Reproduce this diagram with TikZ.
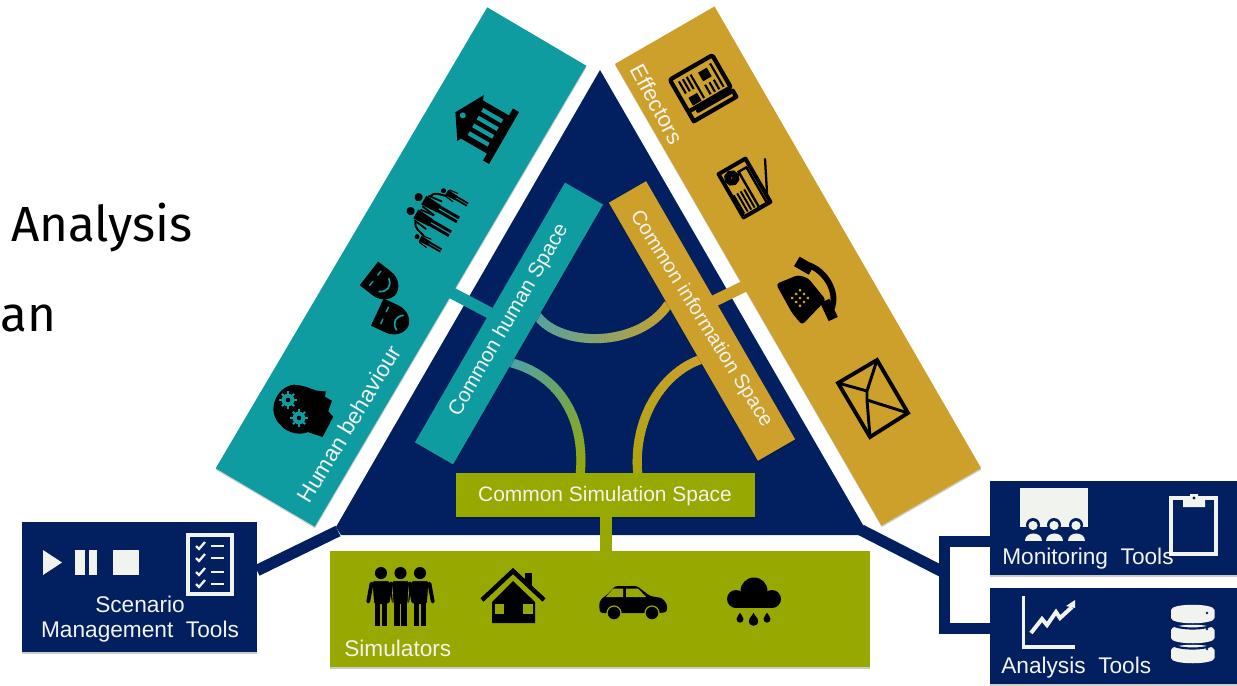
\documentclass[tikz,border=0pt]{standalone}
\usepackage{fontspec}
\setmainfont{Liberation Sans}
\newfontfamily\headfont{Fira Sans}
\usetikzlibrary{shadows,decorations.markings,calc}
\definecolor{navy}{HTML}{02205F}
\definecolor{tealc}{HTML}{0F9CA1}
\definecolor{goldc}{HTML}{CDA02B}
\definecolor{olive}{HTML}{97A800}
\definecolor{paper}{HTML}{F1F3EE}
\definecolor{tealarc}{HTML}{4FA3A3}
\tikzset{
  panel/.style={inner sep=0pt,outer sep=0pt,anchor=center,drop shadow={shadow xshift=0.2pt,shadow yshift=-1.2pt,opacity=.2,fill=black}},
  lab/.style={text=paper,inner sep=0pt,font=\fontsize{17pt}{20pt}\selectfont},
  bar/.style={line width=8.6pt},
  gradarc/.style n args={2}{postaction={decorate},decoration={markings,
     mark=between positions 0 and 1 step 0.02 with {
       \pgfkeysgetvalue{/pgf/decoration/mark info/sequence number}\sq
       \pgfmathtruncatemacro\pc{max(0,100-2*(\sq-1))}
       \draw[line width=6.8pt,color=#1!\pc!#2] (-1.6pt,0pt)--(1.6pt,0pt);}}},
}
% man: x, top y, scale, halo colour
\newcommand\manicon[4]{%
\begin{scope}[shift={(#1,#2)},scale=#3]
 \fill[black] (0,5.5) circle (5.5);
 \fill[black,rounded corners=1.5pt,draw=#4,line width=.5pt] (-8,12.5)--(8,12.5)--(6.6,34)--(-6.6,34)--cycle;
 \draw[black,line width=#3*2.6pt,line cap=round] (-8.6,15)--(-11.6,31.5) (8.6,15)--(11.6,31.5);
 \draw[black,line width=#3*3.5pt] (-3.2,33)--(-3.2,54) (3.2,33)--(3.2,54);
\end{scope}}
% thin figure for the family icon: x, top y, scale
\newcommand\slimicon[3]{%
\begin{scope}[shift={(#1,#2)},scale=#3]
 \fill[black] (0,4.5) circle (4.5);
 \fill[black] (-5.5,11)--(5.5,11)--(4.4,30)--(-4.4,30)--cycle;
 \draw[black,line width=#3*1.5pt] (-6.6,13)--(-8.6,29) (6.6,13)--(8.6,29);
 \draw[black,line width=#3*2.4pt] (-2.4,29)--(-2.4,54) (2.4,29)--(2.4,54);
\end{scope}}
\newcommand\gearicon[2]{%
\begin{scope}[shift={(#1,#2)}]
 \fill[tealc] (0,0) circle (6.3);
 \foreach \a in {0,45,...,315}{\draw[tealc,line width=1.6pt] (\a:5)--(\a:8.6);}
 \fill[black] (0,0) circle (2.3);
\end{scope}}
\newcommand\dropicon[3]{\fill[black] (#1-#3,#2) .. controls (#1-#3,#2+#3*1.4) and (#1+#3,#2+#3*1.4) .. (#1+#3,#2) .. controls (#1+#3,#2-#3*.7) and (#1+#3*.2,#2-#3*1.2) .. (#1,#2-#3*1.8) .. controls (#1-#3*.2,#2-#3*1.2) and (#1-#3,#2-#3*.7) .. (#1-#3,#2)--cycle;}
\newcommand\maskshape{(-15,-14) -- (15,-14) -- (15,2) .. controls (15,14) and (6,20) .. (0,20) .. controls (-6,20) and (-15,14) .. (-15,2) -- cycle}
\begin{document}
\begin{tikzpicture}[x=0.75pt,y=-0.75pt]
\useasboundingbox (0,0) rectangle (1237,685);
\fill[white] (0,0) rectangle (1237,685);

% --- heading fragments
\node[anchor=base west,inner sep=0pt,font=\headfont\fontsize{37pt}{40pt}\selectfont,text=black] (hA) at (11,241) {Analysis};
\node[anchor=base west,inner sep=0pt,font=\headfont\fontsize{37pt}{40pt}\selectfont,text=black] (hB) at (0,331) {an};

% --- named points
\coordinate (apex) at (600,70);
\coordinate (triR) at (863,525);
\coordinate (triBR) at (862,535);
\coordinate (triBL) at (341,535);
\coordinate (triL) at (336,527);
\coordinate (hookL) at (338,531);
\coordinate (hookR) at (861,530);
\coordinate (brk) at (945,573);
\coordinate (brkT) at (944.5,541.5);
\coordinate (brkB) at (944.5,628.5);

% --- triangle
\fill[navy] (apex)--(triR)--(triBR)--(triBL)--(triL)--cycle;

% --- boxes
\node[panel,fill=navy,minimum width=235*.75pt,minimum height=130*.75pt] (scen) at (139.5,587) {};
\node[panel,fill=olive,minimum width=540*.75pt,minimum height=116*.75pt] (sim) at (600,609) {};
\node[panel,fill=navy,minimum width=247*.75pt,minimum height=94*.75pt] (mon) at (1113.5,528) {};
\node[panel,fill=navy,minimum width=247*.75pt,minimum height=96*.75pt] (ana) at (1113.5,636) {};

% --- navy connectors
\coordinate (scenOut) at (257,570.5);
\draw[navy,line width=8.6pt] (scenOut)--(hookL);
\draw[navy,bar] (hookR)--(brk);
\draw[navy,bar,line join=miter] (mon.west |- brkT)--(brkT)--(brkB)--(ana.west |- brkB);

% --- bands
\node[panel,fill=tealc,rotate=59.5,minimum width=535*.75pt,minimum height=115*.75pt] (hb) at (401,267) {};
\node[panel,fill=goldc,rotate=-60,minimum width=533*.75pt,minimum height=115*.75pt] (eff) at (798,266) {};

% --- links band to common space
\coordinate (tA) at (450,292);
\coordinate (tB) at (490,313);
\coordinate (gA) at (747,285);
\coordinate (gB) at (712,302);
\draw[tealc,line width=8.6pt] (tA)--(tB);
\draw[goldc,line width=8.6pt] (gA)--(gB);

% --- curved links
\coordinate (a1) at (536,314);\coordinate (a2) at (669,303);
\coordinate (b1) at (512,363);\coordinate (b2) at (580,476);
\coordinate (c1) at (702,359);\coordinate (c2) at (638,476);
\path[gradarc={tealarc}{goldc}] (a1) .. controls (558,348) and (640,349) .. (a2);
\path[gradarc={tealarc}{olive}] (b1) .. controls (560,376) and (586,420) .. (b2);
\path[gradarc={goldc}{olive!65!goldc}] (c1) .. controls (662,372) and (632,420) .. (c2);

% --- common spaces
\node[panel,fill=tealc,rotate=60,minimum width=300*.75pt,minimum height=44*.75pt] (chs) at (509,323.5) {};
\node[panel,fill=goldc,rotate=-60,minimum width=298*.75pt,minimum height=43*.75pt] (cis) at (702,321) {};
\node[panel,fill=olive,minimum width=299*.75pt,minimum height=44*.75pt] (css) at (605.5,495) {};
\draw[olive,line width=9pt] (css.south) -- (css.south |- sim.north);

% --- labels
\node[lab] at (349,424) [rotate=59] (t1) {Human behaviour};
\node[lab,rotate=-62,font=\fontsize{16.6pt}{20pt}\selectfont] (t2) at (657,104) {Effectors};
\node[lab,rotate=60,font=\fontsize{15.6pt}{20pt}\selectfont] (t3) at (509,320) {Common human Space};
\node[lab,rotate=-58,font=\fontsize{15.2pt}{20pt}\selectfont] (t4) at (701,319) {Common information Space};
\node[lab,font=\fontsize{15.7pt}{20pt}\selectfont] (t5) at (605,496) {Common Simulation Space};
\node[lab,anchor=base west] (t6) at (344,656) {Simulators};
\node[lab] (t7) at (140,604) {Scenario};
\node[lab] (t8) at (140,632) {Management\ \ Tools};
\node[lab,anchor=base west] (t9) at (1002,564) {Monitoring\ \ Tools};
\node[lab,anchor=base west] (t10) at (1001,673) {Analysis\ \ Tools};

% --- head
\begin{scope}[shift={(303,413)},rotate=60]
 \fill[black] (-11,29) -- (-14,14) .. controls (-24,6) and (-24,-8) .. (-22,-12) .. controls (-18,-34) and (10,-36) .. (20,-22) .. controls (24,-14) and (25,-6) .. (26,0) -- (30,9) -- (25,11) -- (25,19) -- (14,21) -- (12,28) -- cycle;
\end{scope}
\gearicon{288}{400}
\gearicon{299}{418}

% --- masks
\begin{scope}[shift={(380,282)},rotate=52]
 \fill[black] \maskshape;
 \draw[tealc,line width=1.1pt,line cap=round] (-9,-6)--(-4,-6) (4,-6)--(9,-6);
 \draw[tealc,line width=1.3pt,line cap=round] (-8,5) .. controls (-4,12) and (4,12) .. (8,5);
\end{scope}
\begin{scope}[shift={(390,318)},rotate=65]
 \fill[black] \maskshape;
 \draw[tealc,line width=1.1pt,line cap=round] (-9,-6)--(-4,-6) (4,-6)--(9,-6);
 \draw[tealc,line width=1.3pt,line cap=round] (-8,11) .. controls (-4,4) and (4,4) .. (8,11);
\end{scope}

% --- family
\begin{scope}[shift={(437,217)},rotate=60]
 \slimicon{-8}{-30}{.92}
 \slimicon{8}{-30}{.92}
 \slimicon{-27}{-10}{.56}
 \slimicon{26}{-10}{.56}
 \draw[black,line width=1.5pt] (-15,-16) .. controls (-22,-14) and (-21,-6) .. (-23,-2);
 \draw[black,line width=1.5pt] (15,-16) .. controls (22,-14) and (21,-6) .. (23,-2);
\end{scope}

% --- bank
\begin{scope}[shift={(485,127)},rotate=60]
 \fill[black] (-2,-33)--(27,-17)--(22,-15)--(22,15)--(30,15)--(30,22)--(-30,22)--(-30,15)--(-22,15)--(-22,-15)--(-26,-17)--cycle;
 \fill[tealc] (-1,-25) circle (3);
 \foreach \x in {-13.5,-4.5,4.5,13.5}{\fill[tealc] (\x-2.1,-11) rectangle (\x+2.1,12);}
\end{scope}

% --- newspaper
\begin{scope}[shift={(703.5,88)},rotate=30]
 \draw[black,line width=3.2pt,line join=round,rounded corners=1.5pt] (-25,-24) rectangle (24,13);
 \draw[black,line width=3.2pt,line join=round,line cap=round] (-25,13)--(-25,24)--(24,24)--(24,17)--(-16,17);
 \fill[black] (3,-16) rectangle (13,-6);
 \fill[black] (-18,1) rectangle (-8,10);
 \draw[black,line width=1.6pt] (-18,-18)--(-18,-4) (-13.5,-18)--(-13.5,-4) (-9,-18)--(-9,-4) (-4.5,-18)--(-4.5,9) (18,-18)--(18,9) (3,-2)--(3,9) (8,-2)--(8,9) (13,-2)--(13,9);
\end{scope}

% --- radio
\begin{scope}[shift={(744.5,188)},rotate=-60]
 \draw[black,line width=3pt,line join=round] (-25,-15.5) rectangle (25,15.5);
 \draw[black,line width=1.8pt] (-17,-12) rectangle (24,-3);
 \draw[black,line width=5pt] (-15,6) circle (4.3);
 \draw[black,line width=1.5pt] (1,1)--(22,1) (1,5)--(22,5) (1,9)--(22,9) (1,13)--(22,13);
\end{scope}
\coordinate (antTop) at (765,159);
\coordinate (antMid) at (767,193);
\draw[black,line width=1.7pt,line cap=round] (antMid)--(antTop);

% --- telephone
\fill[black,rounded corners=2.5pt] (776,284)--(798,275)--(808,278)--(826,300)--(802,325)--(792,313)--cycle;
\draw[black,line width=4.4pt,line cap=round] (803,264) .. controls (823,266) and (840,292) .. (831,310);
\fill[black,rotate around={-30:(804,265)}] (796,260) rectangle (813,271);
\fill[black,rotate around={-65:(829,310)}] (819,305) rectangle (839,315);
\begin{scope}[shift={(800,298)},rotate=-45]
 \foreach \x in {-5.5,0,5.5}{\foreach \y in {-5.5,0,5.5}{\fill[goldc] (\x,\y) circle (1.6);}}
\end{scope}

% --- envelope
\coordinate (e1) at (877,360);\coordinate (e2) at (838,383);\coordinate (e3) at (870,437);\coordinate (e4) at (908,413);
\coordinate (e5) at (867,391);\coordinate (e6) at (867,400);
\draw[black,line width=2.9pt,line join=miter] (e1)--(e2)--(e3)--(e4)--cycle;
\draw[black,line width=2.2pt] (e2)--(e5)--(e1) (e5)--(e6)--(e4) (e6)--(e3);

% --- scenario icons
\fill[paper] (43,550)--(62,562.5)--(43,575)--cycle;
\fill[paper] (75,550) rectangle (85,575);
\fill[paper] (88.5,550) rectangle (97,575);
\fill[paper] (113,550) rectangle (139,575);
\draw[paper,line width=3.2pt] (188,535) rectangle (232,594);
\foreach \y in {546,558,572,584}{
 \draw[paper,line width=1.7pt] (196,\y)--(199,\y+3)--(205,\y-4);
 \draw[paper,line width=2pt] (211,\y)--(224,\y);
}

% --- simulator icons
\manicon{381}{567}{1.1}{olive}
\manicon{420}{567}{1.1}{olive}
\manicon{400.5}{567}{1.1}{olive}
% house
\draw[black,line width=3.4pt,line join=miter] (482,600)--(513,571)--(544,600);
\fill[black] (525,573) rectangle (532,586);
\fill[black] (513,581)--(535,602)--(535,623)--(492,623)--(492,602)--cycle;
\fill[olive] (494.5,604) rectangle (504,614);
\fill[olive] (523,604) rectangle (532.5,614);
% car
\fill[black,rounded corners=2pt] (599,604)--(601,599)--(607,595)--(615,586)--(637,586)--(650,596)--(662,598)--(667,604)--(667,612)--(660,613)--(600,613)--cycle;
\fill[olive] (606,597)--(613,588.5)--(623,588.5)--(623,597)--cycle;
\fill[olive] (626,588.5)--(638,588.5)--(646,597)--(626,597)--cycle;
\fill[black,draw=olive,line width=.9pt] (614,613) circle (7);
\fill[black,draw=olive,line width=.9pt] (652,613) circle (7);
% cloud
\fill[black] (736,599) circle (9);
\fill[black] (754,591) circle (13.5);
\fill[black] (772,599) circle (9);
\fill[black] (736,600) rectangle (772,608);
\dropicon{740}{619}{3.5}
\dropicon{753.5}{621}{4.6}
\dropicon{767}{619}{3.5}

% --- monitoring icons
\fill[paper] (1020,488) rectangle (1088,527);
\foreach \x in {1033,1054,1076}{
 \fill[navy] (\x,525) circle (7);
 \fill[paper] (\x,525.5) circle (4.6);
 \fill[paper] (\x-8.5,541)..controls (\x-8.5,531) and (\x+8.5,531)..(\x+8.5,541)--cycle;
}
\draw[paper,line width=2.5pt] (1171,498) rectangle (1216,554);
\fill[paper] (1183,500)--(1190,500)--(1190,494)--(1198,494)--(1198,500)--(1205,500)--(1205,507)--(1183,507)--cycle;
\fill[navy] (1194,498) circle (1.6);

% --- analysis icons
\draw[paper,line width=2.8pt] (1023.5,596)--(1023.5,647)--(1075,647);
\draw[paper,line width=3pt,line join=miter] (1031,633)--(1042,619)--(1047,625)--(1056,612)--(1060,618)--(1072,607);
\fill[paper] (1075,608)--(1066,606)--(1075,600)--cycle;
\foreach \y in {605,625,645}{
 \fill[paper] (1171,\y+5) .. controls (1171,\y-2) and (1214.5,\y-2) .. (1214.5,\y+5) -- (1214.5,\y+13) .. controls (1214.5,\y+20) and (1171,\y+20) .. (1171,\y+13) -- cycle;
}
\foreach \y in {625,645}{\draw[navy,line width=1.6pt] (1171,\y-1) .. controls (1178,\y+5) and (1207,\y+5) .. (1214.5,\y-1);}
\foreach \y in {629,649}{\fill[navy] (1207,\y) circle (1.4);}
\fill[navy] (1207,613) circle (1.4);
\end{tikzpicture}
\end{document}
